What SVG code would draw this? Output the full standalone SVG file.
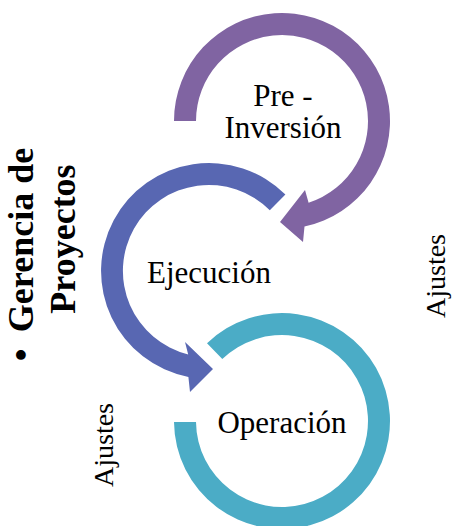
<svg xmlns="http://www.w3.org/2000/svg" width="452" height="526" viewBox="0 0 452 526">
  <style>
    text { font-family: 'Liberation Serif', serif; fill: #000; text-anchor: middle; }
    .lbl { font-size: 31px; }
    .side { font-size: 28px; }
    .title { font-size: 36px; font-weight: bold; }
  </style>
  <rect width="452" height="526" fill="#ffffff"/>

  <!-- circular arrow bodies -->
  <g id="connectors">
    <path id="arrow-preinversion" fill="#8064A2" d="M 174 121 A 108 108 0 1 1 304.5 226.6 L 303 242 L 280 222 L 305 190 L 308.6 202.8 A 86 86 0 1 0 196 121 Z"/>
    <path id="arrow-ejecucion" fill="#5867B2" d="M 285.4 194.6 A 108 108 0 1 0 188.4 377 L 190 392 L 213 369 L 185 342 L 188.2 354.4 A 86 86 0 1 1 269.8 210.2 Z"/>
    <path id="arrow-operacion" fill="#4BACC6" d="M 207 343.3 A 108 108 0 1 1 174 422 L 196 422 A 86 86 0 1 0 222.3 359.1 Z"/>
  </g>

  <g id="node-preinversion">
    <text class="lbl" x="283" y="106">Pre -</text>
    <text class="lbl" x="283" y="138">Inversión</text>
  </g>

  <g id="node-ejecucion">
    <text class="lbl" x="209" y="283">Ejecución</text>
  </g>

  <g id="node-operacion">
    <text class="lbl" x="282" y="433">Operación</text>
  </g>

  <!-- vertical side labels -->
  <g id="title" transform="translate(0,240) rotate(-90)">
    <text class="title" x="-115" y="33">•</text>
    <text class="title" x="0" y="33">Gerencia de</text>
    <text class="title" x="1" y="75">Proyectos</text>
  </g>

  <g id="ajustes-right" transform="translate(445,276) rotate(-90)">
    <text class="side" x="0" y="0">Ajustes</text>
  </g>

  <g id="ajustes-left" transform="translate(112.7,445) rotate(-90)">
    <text class="side" x="0" y="0">Ajustes</text>
  </g>
</svg>
